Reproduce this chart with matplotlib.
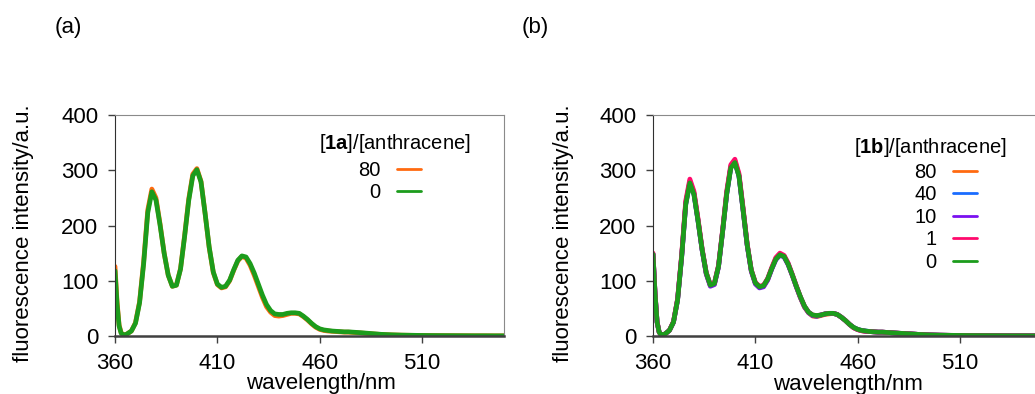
import matplotlib
matplotlib.use('Agg')
import matplotlib.pyplot as plt

plt.rcParams['font.family'] = ['Liberation Sans', 'DejaVu Sans']
plt.rcParams['mathtext.fontset'] = 'custom'
plt.rcParams['mathtext.rm'] = 'Liberation Sans'
plt.rcParams['mathtext.bf'] = 'Liberation Sans:bold'

# emission wavelengths (nm), finer steps around the scatter dip at 360-366
wavelength = [360, 361, 362, 363, 364, 365, 366] + list(range(368, 481, 2)) + list(range(485, 551, 5))

tail = [4, 2.8, 2, 1.5, 1.2, 1, 0.8, 0.7, 0.6, 0.5, 0.4, 0.4, 0.3, 0.3]

# (a) [1a]/[anthracene]
a_80 = [126, 62, 20, 6, 2, 2, 4,
        9, 24, 62, 135, 228, 266, 250, 203, 150, 110, 90, 92, 122, 182,
        248, 293, 303, 280, 222, 160, 115, 93, 87, 89, 100, 119, 136, 144,
        141, 128, 110, 90, 70, 53, 43, 37, 36, 37, 39, 41, 41, 40, 35, 29,
        22, 16, 12, 10, 9, 8.5, 8, 7.5, 7, 7, 6.5, 6, 5.5] + tail
a_0 = [118, 58, 18, 5, 2, 2, 4,
       9, 23, 60, 131, 223, 261, 246, 201, 150, 110, 90, 92, 121, 180,
       245, 290, 301, 279, 222, 161, 116, 94, 88, 90, 101, 120, 137, 145,
       143, 131, 114, 94, 74, 57, 46, 40, 39, 39, 41, 42, 42, 41, 36, 30,
       23, 17, 13, 11, 10, 9, 8.5, 8, 7.5, 7.5, 7, 6.5, 6] + [4.5, 3, 2.2, 1.6, 1.3, 1, 0.8, 0.7, 0.6, 0.5, 0.4, 0.4, 0.3, 0.3]

# (b) [1b]/[anthracene]
b_80 = [149, 77, 25, 7, 2, 2, 4,
        10, 25, 66, 145, 241, 280, 259, 210, 156, 113, 91, 94, 126, 190,
        259, 307, 317, 291, 229, 165, 118, 95, 88, 90, 102, 122, 140, 148,
        145, 130, 110, 89, 69, 52, 42, 36, 35, 37, 39, 40, 41, 39, 34, 28,
        21, 15, 11.5, 9.5, 8.5, 8, 7.5, 7, 7, 6.5, 6, 5.5, 5] + tail
b_40 = [149, 77, 25, 7, 2, 2, 4,
        10, 25, 66, 144, 240, 279, 258, 209, 156, 114, 92, 95, 126, 190,
        258, 306, 316, 290, 229, 165, 119, 96, 89, 91, 103, 122, 140, 148,
        145, 131, 111, 90, 70, 53, 43, 37, 36, 38, 40, 41, 41, 39, 34, 28,
        21, 15.5, 12, 10, 9, 8, 7.5, 7, 7, 6.5, 6, 5.5, 5] + tail
b_10 = [148, 76, 25, 7, 2, 2, 4,
        10, 25, 65, 143, 239, 278, 257, 208, 155, 112, 90, 93, 125, 189,
        257, 305, 315, 289, 227, 164, 117, 94, 87, 89, 101, 121, 138, 146,
        143, 129, 110, 89, 70, 53, 42, 37, 36, 38, 40, 41, 41, 39, 34, 28,
        21, 15, 11.5, 9.5, 8.5, 8, 7.5, 7, 7, 6.5, 6, 5.5, 5] + tail
b_1 = [150, 78, 26, 7, 2, 2, 4,
       10, 26, 67, 147, 245, 284, 262, 212, 158, 115, 93, 96, 128, 192,
       262, 310, 320, 294, 232, 167, 120, 97, 90, 92, 104, 124, 142, 150,
       146, 132, 112, 91, 71, 54, 43, 38, 37, 38, 40, 41, 41, 39, 34, 28,
       21, 15, 11.5, 9.5, 8.5, 8, 7.5, 7, 7, 6.5, 6, 5.5, 5] + tail
b_0 = [148, 76, 25, 7, 2, 2, 4,
       10, 25, 65, 143, 238, 277, 256, 208, 156, 114, 92, 95, 126, 189,
       257, 304, 314, 289, 228, 165, 119, 96, 89, 91, 103, 122, 139, 147,
       144, 130, 111, 90, 71, 54, 43, 38, 37, 38, 40, 41, 41, 39, 34, 28,
       21, 15.5, 12, 10, 9, 8, 7.5, 7, 7, 6.5, 6, 5.5, 5] + tail

a_labels = ['80', '0']
b_labels = ['80', '40', '10', '1', '0']
a_colors = ['#ff6a10', '#1c9c1c']
b_colors = ['#ff6a10', '#1a6cff', '#7a10f0', '#ff0a6c', '#1c9c1c']

xticks = [360, 410, 460, 510]
yticks = [0, 100, 200, 300, 400]

fig = plt.figure(figsize=(10.35, 3.94), dpi=100)
ax_a = fig.add_axes([115 / 1035, 1 - 336 / 394, 389 / 1035, 221 / 394])
ax_b = fig.add_axes([653 / 1035, 1 - 336 / 394, 389 / 1035, 221 / 394])


def setup(ax, series, labels, colors, title, title_xy, leg_anchor, xlabel_xy):
    for y, lab, col in zip(series, labels, colors):
        ax.plot(wavelength, y, color=col, lw=3.4, label=lab,
                solid_capstyle='round', solid_joinstyle='round')
    ax.set_xlim(360, 550)
    ax.set_ylim(0, 400)
    ax.set_xticks(xticks)
    ax.set_yticks(yticks)
    ax.tick_params(labelsize=16, length=5, width=1, color='#404040', pad=7)
    ax.spines['left'].set_color('#303030')
    ax.spines['bottom'].set_color('#404040')
    ax.spines['bottom'].set_linewidth(1.8)
    ax.spines['top'].set_color('#8a8a8a')
    ax.spines['right'].set_color('#8a8a8a')
    ax.set_xlabel('wavelength/nm', fontsize=16)
    ax.xaxis.set_label_coords(*xlabel_xy)
    # legend title drawn on its own so the gap to the entries can be set freely
    ax.text(title_xy[0], title_xy[1], title, transform=ax.transAxes,
            ha='center', va='center', fontsize=14.5)
    leg = ax.legend(loc='upper right', bbox_to_anchor=leg_anchor,
                    frameon=False, markerfirst=False, fontsize=14.5,
                    handlelength=1.2, handletextpad=0.8,
                    labelspacing=0.17, borderpad=0, borderaxespad=0)
    for line in leg.get_lines():
        line.set_linewidth(2)


setup(ax_a, [a_80, a_0], a_labels, a_colors, r'[$\mathbf{1a}$]/[anthracene]',
      (0.72, 0.873), (0.787, 0.792), (0.53, -0.168))
setup(ax_b, [b_80, b_40, b_10, b_1, b_0], b_labels, b_colors,
      r'[$\mathbf{1b}$]/[anthracene]', (0.712, 0.855), (0.833, 0.783), (0.5, -0.174))

fig.text(24 / 1035, 1 - 233 / 394, 'fluorescence intensity/a.u.', rotation=90,
         ha='center', va='center', fontsize=16)
fig.text(563 / 1035, 1 - 233 / 394, 'fluorescence intensity/a.u.', rotation=90,
         ha='center', va='center', fontsize=16)
fig.text(55 / 1035, 1 - 27 / 394, '(a)', ha='left', va='center', fontsize=16)
fig.text(522 / 1035, 1 - 27 / 394, '(b)', ha='left', va='center', fontsize=16)

fig.savefig('out.png', dpi=100)
